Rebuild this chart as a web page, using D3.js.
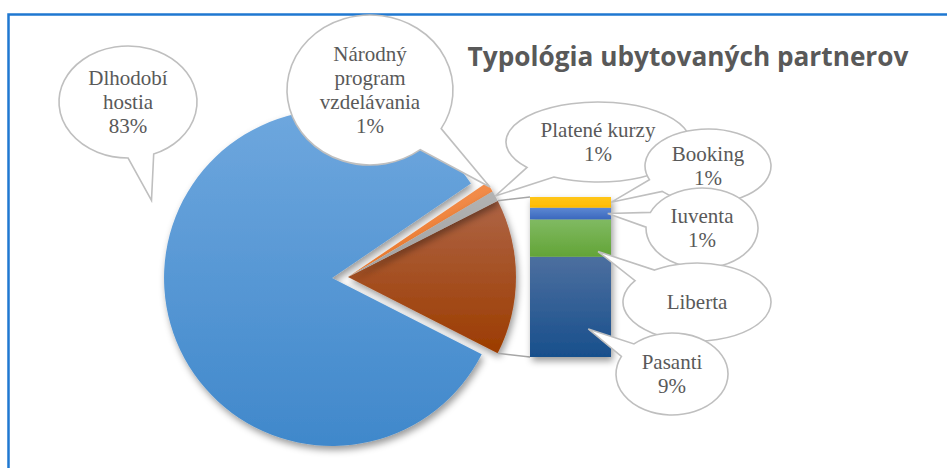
<!DOCTYPE html>
<html>
<head>
<meta charset="utf-8">
<script src="https://cdn.jsdelivr.net/npm/d3@7"></script>
<style>
  body { margin: 0; background: #fff; }
  svg { display: block; }
</style>
</head>
<body>
<svg id="chart" width="947" height="468"></svg>
<script>
// data
const pieNames = ["Dlhodobí hostia", "Národný program vzdelávania", "Platené kurzy"];
const pieValues = [83.0, 1.0, 1.0];
const barNames = ["Pasanti", "Liberta", "Iuventa", "Booking"];   // bottom -> top
const barValues = [9.4, 3.5, 1.1, 1.0];
const title = "Typológia ubytovaných partnerov";

const W = 947, H = 468;
const svg = d3.select("#chart");
const defs = svg.append("defs");

// gradients: [id, top, bottom]
const grads = [
  ["g-Dlhodobí hostia", "#6ea7de", "#4088cb"],
  ["g-Národný program vzdelávania", "#f28d4c", "#ec7a2c"],
  ["g-Platené kurzy", "#b3b3b3", "#a0a0a0"],
  ["g-other", "#ae6445", "#9c3c00"],
  ["g-Pasanti", "#4c6f9f", "#184f8c"],
  ["g-Liberta", "#80ba62", "#63a437"],
  ["g-Iuventa", "#5c88d3", "#3b68bd"],
  ["g-Booking", "#ffc61a", "#ffbb00"]
];
grads.forEach(([id, c1, c2], i) => {
  const g = defs.append("linearGradient").attr("id", "grad" + i)
    .attr("x1", 0).attr("y1", 0).attr("x2", 0).attr("y2", 1);
  g.append("stop").attr("offset", "0%").attr("stop-color", c1);
  g.append("stop").attr("offset", "100%").attr("stop-color", c2);
});
const gradUrl = id => "url(#grad" + grads.findIndex(g => g[0] === id) + ")";

const shadow = defs.append("filter").attr("id", "shadow")
  .attr("x", "-20%").attr("y", "-20%").attr("width", "140%").attr("height", "140%");
shadow.append("feDropShadow").attr("dx", 2).attr("dy", 4)
  .attr("stdDeviation", 3.5).attr("flood-color", "#000").attr("flood-opacity", 0.4);

// frame (top + left blue border)
svg.append("path")
  .attr("d", `M8.5,${H} L8.5,14.5 L${W},14.5`)
  .attr("fill", "none").attr("stroke", "#1f78d1").attr("stroke-width", 2.5);

// pie
const cx = 348, cy = 277, R = 168, explode = 16;
const otherTotal = d3.sum(barValues);
const pieData = [{ name: "other", value: otherTotal }]
  .concat(pieNames.map((n, i) => ({ name: n, value: pieValues[i] })));
const total = d3.sum(pieData, d => d.value);
const otherSweep = otherTotal / total * 2 * Math.PI;
const pie = d3.pie().value(d => d.value).sort(null)
  .startAngle(Math.PI / 2 - otherSweep / 2)
  .endAngle(Math.PI / 2 - otherSweep / 2 + 2 * Math.PI);
const arcs = pie(pieData);
const arc = d3.arc().innerRadius(0).outerRadius(R);

function offsetOf(d) {
  if (d.data.name !== pieNames[0]) return [0, 0];
  const m = (d.startAngle + d.endAngle) / 2;
  return [Math.sin(m) * explode, -Math.cos(m) * explode];
}
function polar(a, r, off) {
  return [cx + off[0] + Math.sin(a) * r, cy + off[1] - Math.cos(a) * r];
}

const gPie = svg.append("g").attr("transform", `translate(${cx},${cy})`);
gPie.selectAll("path.slice")
  .data(arcs)
  .join("path")
  .attr("class", "slice")
  .attr("transform", d => `translate(${offsetOf(d)})`)
  .attr("d", arc)
  .attr("fill", d => gradUrl(d.data.name === "other" ? "g-other" : "g-" + d.data.name))
  .attr("filter", "url(#shadow)");

// bar of pie
const otherArc = arcs[0];
const barX = 530, barW = 81;
const y = d3.scaleLinear().domain([0, otherTotal]).range([cy + 80, cy - 80]);
const stackData = [];
let acc = 0;
barNames.forEach((n, i) => { stackData.push({ name: n, y0: acc, y1: acc + barValues[i] }); acc += barValues[i]; });

// connector lines
const c1 = polar(otherArc.startAngle, R, [0, 0]);
const c2 = polar(otherArc.endAngle, R, [0, 0]);
svg.append("path")
  .attr("d", `M${c1[0]},${c1[1]} L${barX},${y(otherTotal)} M${c2[0]},${c2[1]} L${barX},${y(0)}`)
  .attr("fill", "none").attr("stroke", "#a6a6a6").attr("stroke-width", 1.5);

const gBar = svg.append("g").attr("filter", "url(#shadow)");
gBar.selectAll("rect")
  .data(stackData)
  .join("rect")
  .attr("x", barX).attr("width", barW)
  .attr("y", d => y(d.y1))
  .attr("height", d => y(d.y0) - y(d.y1))
  .attr("fill", d => gradUrl("g-" + d.name));

// callouts
const pct = v => Math.round(v / total * 100) + "%";
function pieTip(name, angleFrac, rFrac) {
  const d = arcs.find(a => a.data.name === name);
  const a = d.startAngle + (d.endAngle - d.startAngle) * angleFrac;
  return polar(a, R * rFrac, offsetOf(d));
}
function barTip(name, xFrac, yFrac) {
  const d = stackData.find(s => s.name === name);
  return [barX + barW * xFrac, y(d.y1 + (d.y0 - d.y1) * yFrac)];
}
const callouts = [
  { cx: 128, cy: 102, rx: 69, ry: 56, lines: ["Dlhodobí", "hostia", pct(pieValues[0])], tip: pieTip(pieNames[0], 0.59, 1.17) },
  { cx: 370, cy: 90, rx: 83, ry: 75, lines: ["Národný", "program", "vzdelávania", pct(pieValues[1])], tip: pieTip(pieNames[1], 0.5, 1.0) },
  { cx: 598, cy: 142, rx: 92, ry: 40, lines: ["Platené kurzy", pct(pieValues[2])], tip: pieTip(pieNames[2], 0.5, 1.0) },
  { cx: 708, cy: 166, rx: 63, ry: 37, lines: ["Booking", pct(barValues[3])], tip: barTip("Booking", 1.0, 0.5) },
  { cx: 702, cy: 228, rx: 56, ry: 40, lines: ["Iuventa", pct(barValues[2])], tip: barTip("Iuventa", 0.96, 0.5) },
  { cx: 697, cy: 302, rx: 74, ry: 39, lines: ["Liberta"], tip: barTip("Liberta", 0.84, 0.86) },
  { cx: 672, cy: 374, rx: 56, ry: 41, lines: ["Pasanti", pct(barValues[0])], tip: barTip("Pasanti", 0.72, 0.72) }
];

function calloutPath(c) {
  const [tx, ty] = c.tip;
  const phi = Math.atan2((ty - c.cy) / c.ry, (tx - c.cx) / c.rx);
  const w = 0.19;
  const p1 = [c.cx + c.rx * Math.cos(phi - w), c.cy + c.ry * Math.sin(phi - w)];
  const p2 = [c.cx + c.rx * Math.cos(phi + w), c.cy + c.ry * Math.sin(phi + w)];
  return `M${p2[0]},${p2[1]} A${c.rx},${c.ry} 0 1 1 ${p1[0]},${p1[1]} L${tx},${ty} Z`;
}

const gCall = svg.append("g");
callouts.forEach(c => {
  const g = gCall.append("g");
  g.append("path").attr("d", calloutPath(c))
    .attr("fill", "#fff").attr("stroke", "#bfbfbf").attr("stroke-width", 1.6);
  const lh = 24;
  const y0 = c.cy - (c.lines.length - 1) * lh / 2;
  g.selectAll("text").data(c.lines).join("text")
    .attr("x", c.cx).attr("y", (d, i) => y0 + i * lh)
    .attr("dy", "0.35em")
    .attr("text-anchor", "middle")
    .attr("font-family", "'Liberation Serif', 'Times New Roman', serif")
    .attr("font-size", 21)
    .attr("fill", "#595959")
    .text(d => d);
});

// title
const t = svg.append("text")
  .attr("x", 688).attr("y", 66)
  .attr("text-anchor", "middle")
  .attr("font-family", "'Open Sans', sans-serif")
  .attr("font-weight", "bold")
  .attr("font-size", 24)
  .attr("fill", "#595959")
  .text(title);
const tw = t.node().getComputedTextLength();
t.attr("font-size", 24 * 441 / tw);
</script>
</body>
</html>
